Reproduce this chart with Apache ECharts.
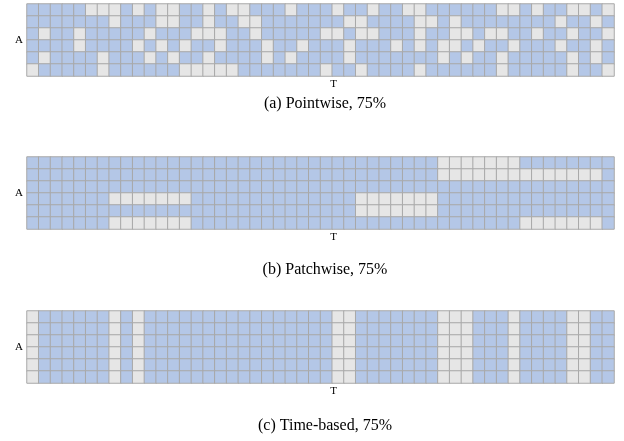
<!DOCTYPE html>
<html>
<head>
<meta charset="utf-8">
<script src="https://cdn.jsdelivr.net/npm/echarts@6/dist/echarts.min.js"></script>
<style>
  html, body { margin: 0; padding: 0; background: #fff; }
  #chart { width: 624px; height: 441px; }
</style>
</head>
<body>
<div id="chart"></div>
<script>
// 1 = masked cell (grey), 0 = observed cell (blue); row 0 is the top row
const pointwiseMask = [
  [0,0,0,0,0,1,1,1,0,1,0,1,1,0,0,1,0,1,1,0,0,0,1,0,0,0,1,0,0,1,0,0,1,1,0,0,0,0,0,0,1,1,0,1,0,0,1,1,0,1],
  [0,0,0,0,0,0,0,1,0,0,0,1,1,0,0,1,0,0,1,1,0,0,0,0,0,0,0,1,1,0,0,0,0,1,1,0,1,0,0,0,0,0,0,0,0,1,0,0,1,0],
  [0,1,0,0,1,0,0,0,0,0,1,0,0,0,1,1,1,0,0,1,0,0,0,0,0,1,1,0,1,1,0,0,0,1,0,0,1,1,0,1,1,0,0,1,0,0,1,0,0,1],
  [0,0,0,0,1,0,0,0,0,1,0,1,0,1,0,0,1,0,0,0,1,0,0,1,0,0,0,1,0,0,0,1,0,1,0,1,1,0,1,0,0,1,0,0,0,1,0,0,1,0],
  [0,1,0,0,0,0,1,0,0,0,1,0,1,0,0,1,0,0,0,0,1,0,1,0,0,0,0,1,0,0,0,0,0,0,0,1,0,1,0,0,1,0,0,0,0,0,1,0,1,0],
  [1,0,0,0,0,0,1,0,0,0,0,0,0,1,1,1,1,1,0,0,0,0,0,0,0,1,0,0,1,0,0,0,0,1,0,0,0,0,0,0,1,0,0,0,0,0,1,0,0,1]
];
const patchwiseMask = [
  [0,0,0,0,0,0,0,0,0,0,0,0,0,0,0,0,0,0,0,0,0,0,0,0,0,0,0,0,0,0,0,0,0,0,0,1,1,1,1,1,1,1,0,0,0,0,0,0,0,0],
  [0,0,0,0,0,0,0,0,0,0,0,0,0,0,0,0,0,0,0,0,0,0,0,0,0,0,0,0,0,0,0,0,0,0,0,1,1,1,1,1,1,1,1,1,1,1,1,1,1,0],
  [0,0,0,0,0,0,0,0,0,0,0,0,0,0,0,0,0,0,0,0,0,0,0,0,0,0,0,0,0,0,0,0,0,0,0,0,0,0,0,0,0,0,0,0,0,0,0,0,0,0],
  [0,0,0,0,0,0,0,1,1,1,1,1,1,1,0,0,0,0,0,0,0,0,0,0,0,0,0,0,1,1,1,1,1,1,1,0,0,0,0,0,0,0,0,0,0,0,0,0,0,0],
  [0,0,0,0,0,0,0,0,0,0,0,0,0,0,0,0,0,0,0,0,0,0,0,0,0,0,0,0,1,1,1,1,1,1,1,0,0,0,0,0,0,0,0,0,0,0,0,0,0,0],
  [0,0,0,0,0,0,0,1,1,1,1,1,1,1,0,0,0,0,0,0,0,0,0,0,0,0,0,0,0,0,0,0,0,0,0,0,0,0,0,0,0,0,1,1,1,1,1,1,1,0]
];
// time-based masking hides whole columns
const timeMaskCols = [0,7,9,26,27,35,36,37,41,46,47];

const numCols = 50;
const numRows = 6;
const captions = ['(a) Pointwise, 75%', '(b) Patchwise, 75%', '(c) Time-based, 75%'];

const blue = '#b4c7e7';
const grey = '#e6e6e6';
const serif = 'Liberation Serif';

const colCats = [];
for (let i = 0; i < numCols; i++) colCats.push(String(i));
const rowCats = [];
for (let i = 0; i < numRows; i++) rowCats.push(String(i));

function toCells(mask) {
  const out = [];
  mask.forEach((row, y) => row.forEach((v, x) => out.push([x, y, v])));
  return out;
}
const timeMask = rowCats.map(() => colCats.map((c, x) => timeMaskCols.indexOf(x) >= 0 ? 1 : 0));

const masks = [pointwiseMask, patchwiseMask, timeMask];
const gridTops = [4, 157, 311];
const captionTops = [91, 257, 413];

const chart = echarts.init(document.getElementById('chart'), null, { renderer: 'canvas' });
const option = {
  animation: false,
  title: captions.map((t, i) => ({
    text: t, left: 320, top: captionTops[i], textAlign: 'center',
    textStyle: { fontFamily: serif, fontSize: 16, fontWeight: 'normal', color: '#000' }
  })),
  grid: gridTops.map(t => ({ left: 27, top: t, width: 587, height: 72 })),
  xAxis: gridTops.map((t, i) => ({
    type: 'category', gridIndex: i, data: colCats,
    axisLine: { show: false }, axisTick: { show: false }, axisLabel: { show: false }, splitLine: { show: false },
    name: 'T', nameLocation: 'middle', nameGap: 3,
    nameTextStyle: { fontFamily: serif, fontSize: 11, color: '#000', verticalAlign: 'top', padding: [0, 0, 0, 26] }
  })),
  yAxis: gridTops.map((t, i) => ({
    type: 'category', gridIndex: i, data: rowCats, inverse: true,
    axisLine: { show: false }, axisTick: { show: false }, axisLabel: { show: false }, splitLine: { show: false },
    name: 'A', nameLocation: 'middle', nameRotate: 0, nameGap: 4,
    nameTextStyle: { fontFamily: serif, fontSize: 11, color: '#000' }
  })),
  visualMap: {
    type: 'piecewise', show: false, seriesIndex: [0, 1, 2], dimension: 2,
    pieces: [{ value: 0, color: blue }, { value: 1, color: grey }]
  },
  series: masks.map((m, i) => ({
    type: 'heatmap', xAxisIndex: i, yAxisIndex: i,
    data: toCells(m),
    itemStyle: { borderColor: '#a8a8a8', borderWidth: 1 },
    emphasis: { disabled: true }
  }))
};
chart.setOption(option);
</script>
</body>
</html>
